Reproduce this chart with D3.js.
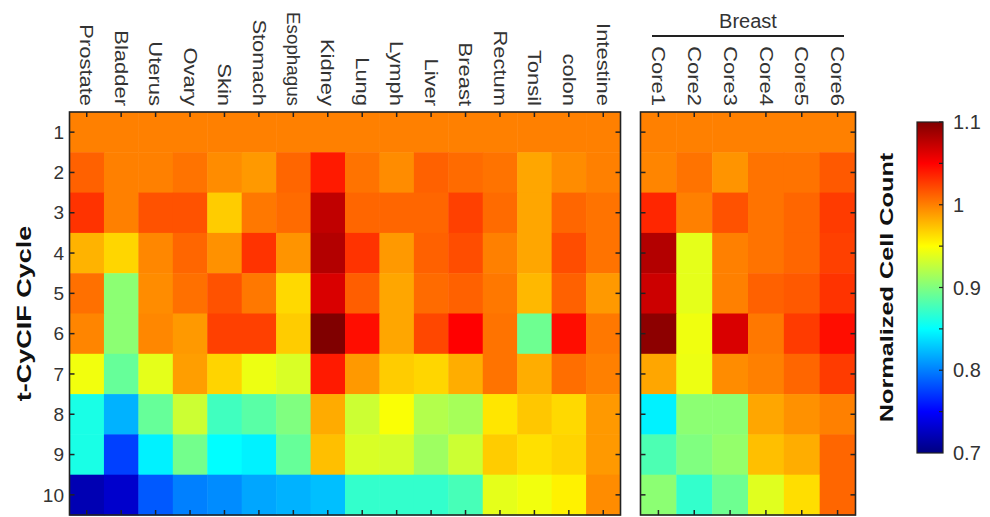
<!DOCTYPE html>
<html lang="en">
<head>
  <meta charset="UTF-8">
  <title>t-CyCIF normalized cell count</title>
  <script src="https://d3js.org/d3.v7.min.js"></script>
  <style>
    body {
      margin: 0;
      background-color: #fff;
      font-family: "Liberation Sans", Arial, sans-serif;
    }
    svg text {
      fill: #333;
    }
  </style>
</head>
<body>
  <div id="chart"></div>

  <script>
    const width = 990;
    const height = 517;

    // chart data
    const cycles = ["1", "2", "3", "4", "5", "6", "7", "8", "9", "10"];
    const tissues = ["Prostate", "Bladder", "Uterus", "Ovary", "Skin", "Stomach", "Esophagus", "Kidney",
                     "Lung", "Lymph", "Liver", "Breast", "Rectum", "Tonsil", "colon", "Intestine"];
    const cores = ["Core1", "Core2", "Core3", "Core4", "Core5", "Core6"];
    const coreGroup = "Breast";

    // one row per cycle, one value per tissue
    const tissueCounts = [
      [1.0, 1.0, 1.0, 1.0, 1.0, 1.0, 1.0, 1.0, 1.0, 1.0, 1.0, 1.0, 1.0, 1.0, 1.0, 1.0],
      [1.012, 1.0, 1.0, 1.005, 0.995, 0.99, 1.01, 1.04, 1.005, 0.995, 1.012, 1.008, 1.005, 0.985, 0.995, 1.0],
      [1.03, 1.0, 1.018, 1.018, 0.97, 1.003, 1.008, 1.075, 1.01, 1.01, 1.01, 1.025, 1.008, 0.985, 1.01, 1.005],
      [0.98, 0.966, 0.997, 1.01, 0.993, 1.03, 0.992, 1.08, 1.03, 0.99, 1.012, 1.02, 1.0, 0.985, 1.02, 1.005],
      [1.006, 0.905, 0.995, 1.006, 1.018, 1.003, 0.965, 1.065, 1.013, 0.985, 1.008, 1.012, 1.003, 0.978, 1.012, 0.99],
      [0.998, 0.905, 0.997, 0.99, 1.025, 1.025, 0.97, 1.1, 1.045, 0.985, 1.022, 1.05, 1.005, 0.893, 1.045, 1.003],
      [0.945, 0.89, 0.94, 0.988, 0.967, 0.943, 0.935, 1.04, 0.99, 0.97, 0.966, 0.982, 1.005, 0.982, 1.007, 1.0],
      [0.86, 0.82, 0.89, 0.93, 0.875, 0.885, 0.9, 0.983, 0.93, 0.948, 0.92, 0.915, 0.96, 0.972, 0.965, 0.99],
      [0.86, 0.775, 0.845, 0.895, 0.85, 0.845, 0.89, 0.975, 0.935, 0.933, 0.912, 0.93, 0.97, 0.962, 0.967, 0.99],
      [0.72, 0.73, 0.785, 0.8, 0.805, 0.815, 0.82, 0.825, 0.87, 0.87, 0.87, 0.878, 0.94, 0.945, 0.955, 0.995]
    ];

    // one row per cycle, one value per breast core
    const coreCounts = [
      [1.0, 1.0, 1.0, 1.0, 1.0, 1.0],
      [0.998, 1.005, 0.992, 1.005, 1.005, 1.015],
      [1.035, 1.0, 1.018, 1.005, 1.01, 1.027],
      [1.08, 0.94, 1.0, 1.005, 1.01, 1.025],
      [1.07, 0.94, 1.0, 1.012, 1.015, 1.03],
      [1.095, 0.944, 1.065, 1.003, 1.027, 1.045],
      [0.985, 0.943, 0.995, 1.0, 1.01, 1.027],
      [0.845, 0.905, 0.905, 0.985, 0.993, 1.0],
      [0.88, 0.9, 0.908, 0.975, 0.982, 1.01],
      [0.905, 0.87, 0.893, 0.938, 0.963, 1.01]
    ];

    const colorTicks = [0.7, 0.8, 0.9, 1, 1.1];
    const colorDomain = [0.7, 1.1];

    // jet colormap
    const jetStops = [0, 0.125, 0.375, 0.625, 0.875, 1];
    const jetColors = ["#000080", "#0000ff", "#00ffff", "#ffff00", "#ff0000", "#800000"];
    const toUnit = d3.scaleLinear().domain(colorDomain).range([0, 1]).clamp(true);
    const jet = d3.scaleLinear().domain(jetStops).range(jetColors).interpolate(d3.interpolateRgb);
    const color = v => jet(toUnit(v));

    const svg = d3.select("#chart")
      .append("svg")
      .attr("width", width)
      .attr("height", height);

    const plotTop = 112, plotBottom = 515;

    const y = d3.scaleBand().domain(cycles).range([plotTop, plotBottom]).padding(0);

    function drawPanel(cols, values, x0, x1) {
      const x = d3.scaleBand().domain(cols).range([x0, x1]).padding(0);
      const g = svg.append("g");

      values.forEach((row, i) => {
        g.selectAll(null)
          .data(row)
          .join("rect")
          .attr("x", (d, j) => x(cols[j]))
          .attr("y", y(cycles[i]))
          .attr("width", x.bandwidth() + 0.5)
          .attr("height", y.bandwidth() + 0.5)
          .attr("fill", d => color(d));
      });

      // inward ticks on all four sides
      const tl = 5;
      cols.forEach(c => {
        const cx = x(c) + x.bandwidth() / 2;
        g.append("line").attr("x1", cx).attr("x2", cx).attr("y1", plotTop).attr("y2", plotTop + tl)
          .attr("stroke", "#222").attr("stroke-width", 1.5);
        g.append("line").attr("x1", cx).attr("x2", cx).attr("y1", plotBottom).attr("y2", plotBottom - tl)
          .attr("stroke", "#222").attr("stroke-width", 1.5);
      });
      cycles.forEach(c => {
        const ry = y(c) + y.bandwidth() / 2;
        g.append("line").attr("x1", x0).attr("x2", x0 + tl).attr("y1", ry).attr("y2", ry)
          .attr("stroke", "#222").attr("stroke-width", 1.5);
        g.append("line").attr("x1", x1).attr("x2", x1 - tl).attr("y1", ry).attr("y2", ry)
          .attr("stroke", "#222").attr("stroke-width", 1.5);
      });

      g.append("rect")
        .attr("x", x0).attr("y", plotTop)
        .attr("width", x1 - x0).attr("height", plotBottom - plotTop)
        .attr("fill", "none")
        .attr("stroke", "#222")
        .attr("stroke-width", 1.6);

      // rotated column labels (reading top to bottom), stretched a bit but kept on the page
      g.selectAll(null)
        .data(cols)
        .join("text")
        .attr("text-anchor", "end")
        .attr("dy", "0.35em")
        .style("font-size", "18px")
        .text(d => d)
        .attr("transform", function(d) {
          const len = this.getComputedTextLength();
          const s = Math.min(1.22, 94 / len);
          return `translate(${x(d) + x.bandwidth() / 2},${plotTop - 6}) rotate(90) scale(${s},1)`;
        });

      return x;
    }

    drawPanel(tissues, tissueCounts, 69.5, 620.5);
    const xc = drawPanel(cores, coreCounts, 640.5, 855.5);

    // group header over the cores
    svg.append("text")
      .attr("x", (xc.range()[0] + xc.range()[1]) / 2)
      .attr("y", 28)
      .attr("text-anchor", "middle")
      .style("font-size", "20px")
      .text(coreGroup);
    svg.append("line")
      .attr("x1", 652).attr("x2", 844)
      .attr("y1", 36).attr("y2", 36)
      .attr("stroke", "#222").attr("stroke-width", 2);

    // row labels
    svg.selectAll(".rowlab")
      .data(cycles)
      .join("text")
      .attr("class", "rowlab")
      .attr("x", 64)
      .attr("y", d => y(d) + y.bandwidth() / 2)
      .attr("dy", "0.35em")
      .attr("text-anchor", "end")
      .style("font-size", "19px")
      .text(d => d);

    svg.append("text")
      .attr("transform", `translate(24,${(plotTop + plotBottom) / 2}) rotate(-90) scale(1.35,1)`)
      .attr("text-anchor", "middle")
      .attr("dy", "0.35em")
      .style("font-size", "20px")
      .style("font-weight", "bold")
      .style("fill", "#111")
      .text("t-CyCIF Cycle");

    // colorbar
    const cbX = 917, cbW = 26, cbTop = 122, cbBottom = 453;
    const cbScale = d3.scaleLinear().domain(colorDomain).range([cbBottom, cbTop]);

    const grad = svg.append("defs").append("linearGradient")
      .attr("id", "jet")
      .attr("x1", "0").attr("y1", "1").attr("x2", "0").attr("y2", "0");
    grad.selectAll("stop")
      .data(jetStops)
      .join("stop")
      .attr("offset", d => d)
      .attr("stop-color", (d, i) => jetColors[i]);

    svg.append("rect")
      .attr("x", cbX).attr("y", cbTop)
      .attr("width", cbW).attr("height", cbBottom - cbTop)
      .attr("fill", "url(#jet)")
      .attr("stroke", "#222").attr("stroke-width", 1.2);

    const minorTicks = d3.range(0.75, 1.1, 0.05);
    svg.selectAll(".cbtick")
      .data(minorTicks)
      .join("line")
      .attr("class", "cbtick")
      .attr("x1", cbX + cbW).attr("x2", cbX + cbW - 4)
      .attr("y1", d => cbScale(d)).attr("y2", d => cbScale(d))
      .attr("stroke", "#222").attr("stroke-width", 1.2);

    svg.selectAll(".cblab")
      .data(colorTicks)
      .join("text")
      .attr("class", "cblab")
      .attr("x", cbX + cbW + 10)
      .attr("y", d => cbScale(d))
      .attr("dy", "0.35em")
      .style("font-size", "20px")
      .text(d => d);

    svg.append("text")
      .attr("transform", `translate(886,${(cbTop + cbBottom) / 2}) rotate(-90) scale(1.33,1)`)
      .attr("text-anchor", "middle")
      .attr("dy", "0.35em")
      .style("font-size", "19px")
      .style("font-weight", "bold")
      .style("fill", "#111")
      .text("Normalized Cell Count");
  </script>
</body>
</html>
